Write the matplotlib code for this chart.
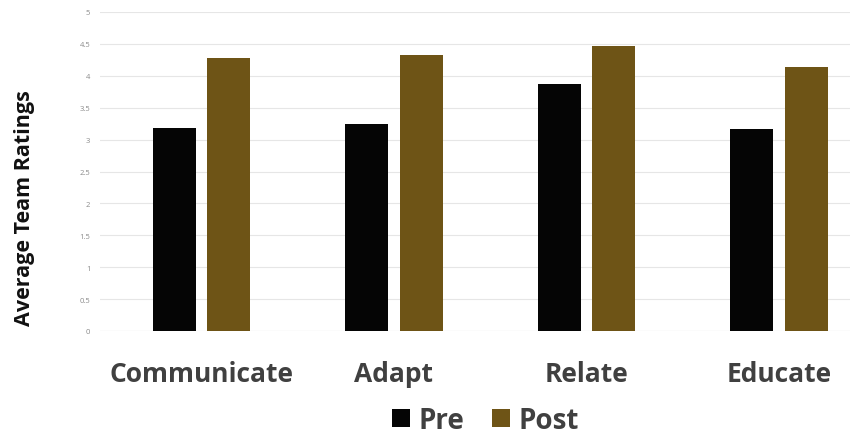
import numpy as np
import matplotlib
matplotlib.use('Agg')
import matplotlib.pyplot as plt

plt.rcParams['font.family'] = ['Open Sans', 'DejaVu Sans']

categories = ['Communicate', 'Adapt', 'Relate', 'Educate']
pre_vals = [3.18, 3.24, 3.87, 3.17]
post_vals = [4.28, 4.33, 4.47, 4.14]
yticks = [0, 0.5, 1, 1.5, 2, 2.5, 3, 3.5, 4, 4.5, 5]

pre_color = '#050505'
post_color = '#6e5416'

fig = plt.figure(figsize=(8.54, 4.39), dpi=100)
ax = fig.add_axes([100 / 854, 1 - 332 / 439, 750 / 854, 319 / 439])

x = np.arange(len(categories))
width = 0.223
off = 0.1416
ax.bar(x - off, pre_vals, width, color=pre_color, label='Pre', zorder=3)
ax.bar(x + off, post_vals, width, color=post_color, label='Post', zorder=3)

ax.set_xlim(-0.527, 3.369)
ax.set_ylim(0, 5)
ax.set_yticks(yticks)
ax.set_yticklabels([f'{t:g}' for t in yticks], fontsize=5.5, color='#8a8a8a')
ax.yaxis.grid(True, color='#e6e6e6', lw=0.8, zorder=0)
ax.set_axisbelow(True)
ax.tick_params(axis='y', length=0, pad=7)
ax.tick_params(axis='x', length=0, pad=21)
ax.set_xticks(x)
ax.set_xticklabels(categories, fontsize=19, fontweight='bold', color='#404040')
for s in ax.spines.values():
    s.set_visible(False)
ax.axhline(0, color='#e6e6e6', lw=0.8, zorder=1)

fig.text(25 / 854, 1 - 208 / 439, 'Average Team Ratings', rotation=90,
         ha='center', va='center', fontsize=15.5, fontweight='bold', color='#111111')

leg = fig.legend(
    loc='center',
    bbox_to_anchor=(0.568, 0.04),
    ncol=2,
    frameon=False,
    prop={'size': 20, 'weight': 'bold'},
    handlelength=0.65,
    handleheight=0.65,
    handletextpad=0.3,
    columnspacing=1.0,
    borderpad=0,
)
for t in leg.get_texts():
    t.set_color('#404040')

fig.savefig('out.png', dpi=100)
